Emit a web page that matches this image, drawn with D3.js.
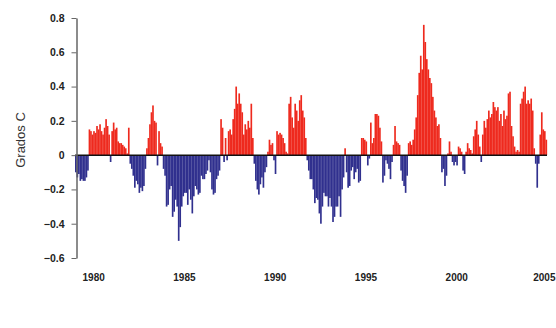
<!DOCTYPE html>
<html>
<head>
<meta charset="utf-8">
<script src="https://cdn.jsdelivr.net/npm/d3@7"></script>
<style>
  html, body { margin: 0; padding: 0; background: #fff; overflow: hidden; }
  svg { display: block; font-family: Arial, "Liberation Sans", sans-serif; }
</style>
</head>
<body>
<svg id="chart"></svg>
<script>
// Monthly anomalies (Grados C), one row per year, Jan..Dec
const startYear = 1979;
const anomalies = [
  /*1979*/ -0.10,-0.13,-0.11,-0.15,-0.14,-0.15,-0.15,-0.13,-0.09, 0.15, 0.14, 0.12,
  /*1980*/  0.14, 0.13, 0.17, 0.15, 0.18, 0.14, 0.12, 0.16, 0.21, 0.17, 0.12,-0.04,
  /*1981*/  0.14, 0.19, 0.15, 0.16, 0.08, 0.07, 0.07, 0.06, 0.05, 0.04, 0.01, 0.16,
  /*1982*/ -0.05,-0.08,-0.12,-0.19,-0.15,-0.17,-0.22,-0.19,-0.21,-0.18,-0.08, 0.04,
  /*1983*/  0.10, 0.18, 0.25, 0.29, 0.20, 0.19,-0.06, 0.14, 0.07, 0.05,-0.08,-0.12,
  /*1984*/ -0.30,-0.29,-0.20,-0.18,-0.36,-0.33,-0.26,-0.30,-0.50,-0.42,-0.30,-0.24,
  /*1985*/ -0.22,-0.22,-0.29,-0.20,-0.26,-0.34,-0.24,-0.18,-0.20,-0.23,-0.22,-0.12,
  /*1986*/ -0.14,-0.14,-0.11,-0.09,-0.03,-0.10,-0.20,-0.23,-0.22,-0.14,-0.12,-0.09,
  /*1987*/  0.21, 0.16,-0.04, 0.10,-0.03, 0.14, 0.15, 0.12, 0.21, 0.27, 0.40, 0.30,
  /*1988*/  0.36, 0.30, 0.25, 0.12, 0.18, 0.15, 0.20, 0.16, 0.30, 0.10,-0.05,-0.15,
  /*1989*/ -0.20,-0.23,-0.17,-0.13,-0.19,-0.10,-0.07, 0.02, 0.09, 0.06, 0.07,-0.03,
  /*1990*/ -0.11, 0.14, 0.12, 0.13, 0.12, 0.10, 0.07, 0.02, 0.01, 0.30, 0.34, 0.22,
  /*1991*/  0.16, 0.30, 0.26, 0.20, 0.32, 0.35, 0.26, 0.22, 0.10,-0.03,-0.09,-0.14,
  /*1992*/ -0.14,-0.20,-0.28,-0.25,-0.26,-0.34,-0.40,-0.30,-0.22,-0.24,-0.24,-0.30,
  /*1993*/ -0.25,-0.30,-0.39,-0.36,-0.30,-0.30,-0.24,-0.36,-0.20,-0.13, 0.04,-0.10,
  /*1994*/ -0.19,-0.18,-0.09,-0.07,-0.14,-0.10,-0.08,-0.16,-0.15, 0.10, 0.10, 0.09,
  /*1995*/  0.08,-0.06,-0.02, 0.19, 0.07, 0.10, 0.24, 0.24, 0.23, 0.16, 0.08,-0.16,
  /*1996*/ -0.12,-0.03,-0.05,-0.08,-0.14,-0.04, 0.06, 0.17, 0.08, 0.07, 0.06,-0.09,
  /*1997*/ -0.15,-0.18,-0.22,-0.12, 0.07, 0.08, 0.06, 0.09, 0.15, 0.22, 0.35, 0.48,
  /*1998*/  0.58, 0.50, 0.76, 0.66, 0.56, 0.50, 0.45, 0.42, 0.34, 0.26, 0.22, 0.17,
  /*1999*/  0.18, 0.10,-0.10,-0.08,-0.18,-0.12, 0.01, 0.08, 0.02,-0.04,-0.06,-0.04,
  /*2000*/ -0.06, 0.05, 0.04, 0.02,-0.09,-0.11, 0.02, 0.07, 0.04, 0.03, 0.01, 0.11,
  /*2001*/  0.15, 0.20, 0.12, 0.05,-0.04, 0.12, 0.20, 0.16, 0.21, 0.26, 0.22, 0.24,
  /*2002*/  0.31, 0.28, 0.26, 0.28, 0.20, 0.24, 0.17, 0.26, 0.21, 0.23, 0.36, 0.37,
  /*2003*/  0.17, 0.11, 0.05, 0.02, 0.03, 0.02, 0.30, 0.33, 0.37, 0.40, 0.30, 0.32,
  /*2004*/  0.30, 0.33, 0.26, 0.04,-0.05,-0.19,-0.05, 0.12, 0.25, 0.15, 0.14, 0.09
];
const yTicks = [-0.6, -0.4, -0.2, 0, 0.2, 0.4, 0.6, 0.8];
const xTickYears = [1980, 1985, 1990, 1995, 2000, 2005];
const yLabel = 'Grados C';

const width = 556, height = 328;
const plot = {l: 75, r: 547, t: 18, b: 258};

const svg = d3.select('#chart')
  .attr('width', width)
  .attr('height', height);

const nYears = anomalies.length / 12;
const months = d3.range(anomalies.length);

const xBand = d3.scaleBand()
  .domain(months)
  .range([plot.l, plot.r])
  .paddingInner(0);

const xYear = d3.scaleLinear()
  .domain([startYear, startYear + nYears])
  .range([plot.l, plot.r]);

const y = d3.scaleLinear()
  .domain([-0.6, 0.8])
  .range([plot.b, plot.t]);

// bars
svg.append('g')
  .selectAll('rect')
  .data(months)
  .enter()
  .append('rect')
  .attr('x', i => xBand(i))
  .attr('width', xBand.bandwidth() + 0.15)
  .attr('y', i => anomalies[i] >= 0 ? y(anomalies[i]) : y(0))
  .attr('height', i => Math.abs(y(anomalies[i]) - y(0)))
  .attr('fill', i => anomalies[i] >= 0 ? '#ee2a1e' : '#30308e');

// zero line
svg.append('line')
  .attr('x1', plot.l)
  .attr('x2', plot.r)
  .attr('y1', y(0))
  .attr('y2', y(0))
  .attr('stroke', '#111')
  .attr('stroke-width', 1.5);

// y axis
const yAxis = svg.append('g')
  .attr('transform', 'translate(' + (plot.l + 1.5) + ',0)')
  .call(d3.axisLeft(y)
    .tickValues(yTicks)
    .tickSize(5)
    .tickSizeOuter(0)
    .tickPadding(7)
    .tickFormat(d => d === 0 ? '0' : d3.format('.1f')(d)));
yAxis.select('.domain').attr('stroke', '#666').attr('stroke-width', 1.5);
yAxis.selectAll('.tick line').attr('stroke', '#666');
yAxis.selectAll('.tick text')
  .attr('fill', '#222')
  .attr('font-size', '10.5px')
  .attr('font-weight', 'bold')
  .attr('font-family', 'Arial, "Liberation Sans", sans-serif');

// x labels
const xAxis = svg.append('g')
  .attr('transform', 'translate(0,' + 270 + ')')
  .call(d3.axisBottom(xYear)
    .tickValues(xTickYears)
    .tickSize(0)
    .tickPadding(4)
    .tickFormat(d3.format('d')));
xAxis.select('.domain').remove();
xAxis.selectAll('.tick text')
  .attr('fill', '#222')
  .attr('font-size', '10px')
  .attr('font-weight', 'bold')
  .attr('font-family', 'Arial, "Liberation Sans", sans-serif');
// keep the last label inside the window edge
xAxis.selectAll('.tick text')
  .filter(d => d === xTickYears[xTickYears.length - 1])
  .attr('text-anchor', 'end')
  .attr('dx', width - 1 - xYear(xTickYears[xTickYears.length - 1]));

// y axis title
svg.append('text')
  .attr('transform', 'translate(25,140) rotate(-90)')
  .attr('text-anchor', 'middle')
  .attr('fill', '#333')
  .attr('font-size', '13px')
  .attr('font-family', 'Arial, "Liberation Sans", sans-serif')
  .text(yLabel);
</script>
</body>
</html>
